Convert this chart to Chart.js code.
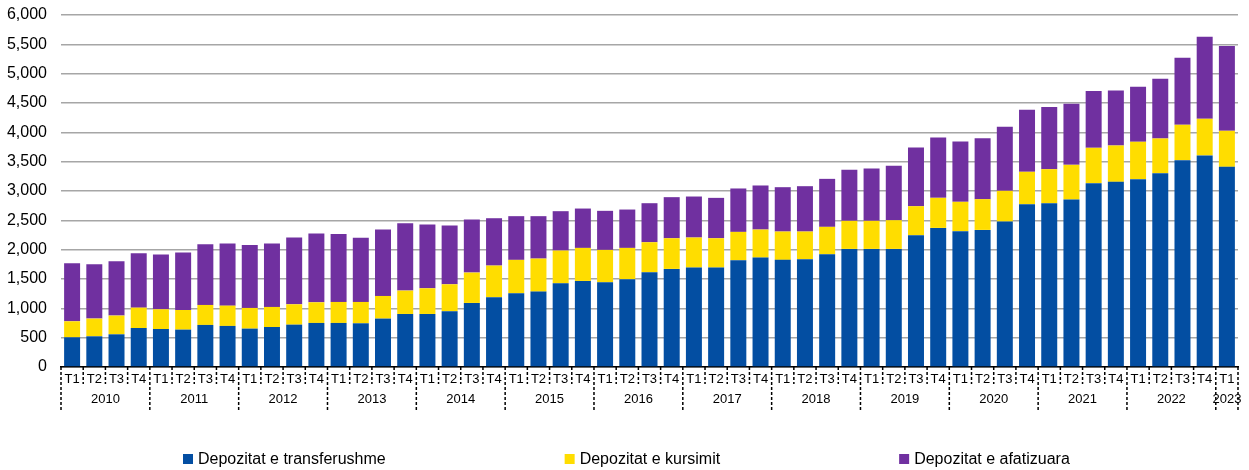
<!DOCTYPE html>
<html>
<head>
<meta charset="utf-8">
<script src="https://cdn.jsdelivr.net/npm/chart.js@4/dist/chart.umd.min.js"></script>
<style>
  html, body { margin: 0; padding: 0; background: #fff; }
  #wrap { position: relative; width: 1249px; height: 470px; }
</style>
</head>
<body>
<div id="wrap"><canvas id="depositChart"></canvas></div>
<script>
const years = ['2010', '2011', '2012', '2013', '2014', '2015', '2016', '2017', '2018', '2019', '2020', '2021', '2022', '2023'];
const quarterNames = ['T1', 'T2', 'T3', 'T4'];

const seriesNames = ['Depozitat e transferushme', 'Depozitat e kursimit', 'Depozitat e afatizuara'];
const seriesColors = ['#034ea2', '#ffdd00', '#7030a0'];

// millions of euro, 2010 T1 .. 2023 T1
const transferable = [506, 523, 557, 665, 648, 637, 717, 700, 654, 682, 722, 751, 751, 745, 825, 904,
  904, 950, 1092, 1189, 1257, 1285, 1427, 1467, 1444, 1496, 1615, 1672, 1695, 1695, 1820, 1865,
  1826, 1837, 1922, 2013, 2013, 2013, 2246, 2371, 2315, 2337, 2479, 2775, 2792, 2855, 3134, 3156,
  3202, 3304, 3526, 3606, 3412];
const savings = [273, 302, 319, 347, 336, 335, 341, 346, 353, 342, 347, 352, 358, 364, 386, 398,
  438, 460, 517, 540, 569, 563, 558, 563, 552, 534, 512, 523, 512, 500, 483, 478,
  483, 472, 467, 478, 478, 489, 495, 512, 500, 524, 524, 552, 580, 591, 602, 620,
  637, 592, 603, 625, 614];
const timeDeposits = [990, 927, 927, 927, 933, 979, 1035, 1058, 1074, 1080, 1138, 1172, 1160, 1092, 1132, 1149,
  1086, 1001, 905, 807, 745, 723, 671, 671, 666, 654, 665, 700, 699, 688, 740, 751,
  756, 773, 818, 870, 893, 927, 1001, 1030, 1029, 1040, 1092, 1058, 1058, 1041, 967, 939,
  938, 1018, 1143, 1399, 1445];

const yTicks = [0, 500, 1000, 1500, 2000, 2500, 3000, 3500, 4000, 4500, 5000, 5500, 6000];

const labels = [];
years.forEach(function (y) {
  quarterNames.forEach(function (q) {
    if (labels.length < transferable.length) labels.push(q);
  });
});

const FONT = '"Liberation Sans", Arial, sans-serif';

// dashed separators under the axis + year labels + legend
const axisDecor = {
  id: 'axisDecor',
  afterDraw(chart) {
    const ctx = chart.ctx;
    const xs = chart.scales.x;
    const bottom = chart.chartArea.bottom;
    const n = labels.length;
    const half = (xs.getPixelForValue(1) - xs.getPixelForValue(0)) / 2;

    ctx.save();
    ctx.strokeStyle = '#000';
    ctx.lineWidth = 1.5;
    ctx.setLineDash([3, 2]);
    for (let i = 0; i <= n; i++) {
      const x = i < n ? xs.getPixelForValue(i) - half : xs.getPixelForValue(n - 1) + half;
      const isYear = i % 4 === 0 || i === n;
      ctx.beginPath();
      ctx.moveTo(x, bottom);
      ctx.lineTo(x, bottom + (isYear ? 43 : 17));
      ctx.stroke();
    }
    ctx.setLineDash([]);

    ctx.fillStyle = '#000';
    ctx.font = '13px ' + FONT;
    ctx.textAlign = 'center';
    ctx.textBaseline = 'middle';
    years.forEach(function (y, k) {
      const first = k * 4;
      const last = Math.min(k * 4 + 3, n - 1);
      const x = (xs.getPixelForValue(first) + xs.getPixelForValue(last)) / 2;
      ctx.fillText(y, x, bottom + 32);
    });

    // legend
    ctx.font = '16px ' + FONT;
    ctx.textAlign = 'left';
    let lx = 183;
    const ly = 459;
    seriesNames.forEach(function (name, i) {
      ctx.fillStyle = seriesColors[i];
      ctx.fillRect(lx, ly - 5, 10, 10);
      ctx.fillStyle = '#000';
      ctx.fillText(name, lx + 15, ly + 1);
      lx += 15 + ctx.measureText(name).width + 179;
    });
    ctx.restore();
  }
};

new Chart(document.getElementById('depositChart'), {
  type: 'bar',
  data: {
    labels: labels,
    datasets: [
      { label: seriesNames[0], data: transferable, backgroundColor: seriesColors[0] },
      { label: seriesNames[1], data: savings, backgroundColor: seriesColors[1] },
      { label: seriesNames[2], data: timeDeposits, backgroundColor: seriesColors[2] }
    ]
  },
  options: {
    responsive: true,
    maintainAspectRatio: false,
    animation: false,
    layout: { padding: { top: 15, right: 11, left: 0, bottom: 0 } },
    datasets: { bar: { categoryPercentage: 1, barPercentage: 0.72, borderWidth: 0 } },
    plugins: {
      legend: { display: false },
      tooltip: { enabled: false }
    },
    scales: {
      x: {
        stacked: true,
        afterFit: (s) => { s.height = 103; },
        grid: { display: false, drawTicks: false },
        border: { display: true, color: '#000', width: 1.5, dash: [3, 2] },
        ticks: { color: '#000', font: { family: FONT, size: 13 }, padding: 5, maxRotation: 0, autoSkip: false }
      },
      y: {
        stacked: true,
        min: 0,
        max: 6000,
        afterFit: (s) => { s.width = 61; s.paddingTop = 8; s.paddingBottom = 8; },
        afterBuildTicks: (s) => { s.ticks = yTicks.map(v => ({ value: v })); },
        grid: { color: '#a6a6a6', lineWidth: 1.6, drawTicks: false },
        border: { display: false },
        ticks: {
          color: '#000',
          padding: 14,
          font: { family: FONT, size: 16 },
          callback: (v) => v.toLocaleString('en-US')
        }
      }
    }
  },
  plugins: [axisDecor]
});
</script>
</body>
</html>
